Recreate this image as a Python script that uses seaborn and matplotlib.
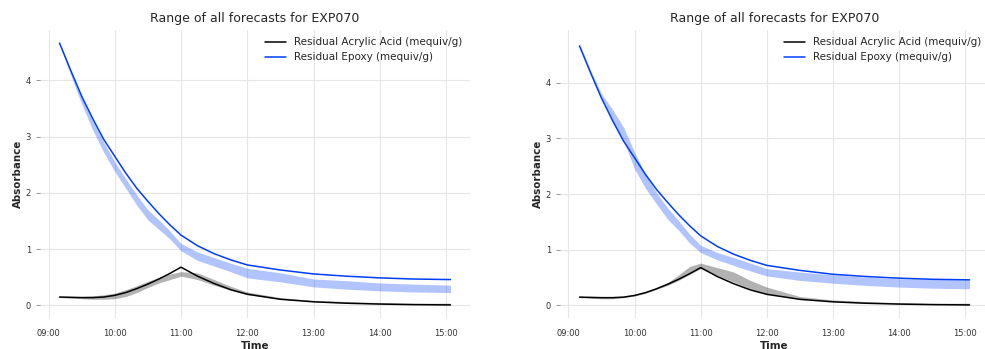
import pandas as pd
import numpy as np
import matplotlib.pyplot as plt
import matplotlib.dates as mdates
import seaborn as sns

# minutes after 09:00
minutes = [10, 20, 30, 40, 50, 60, 70, 80, 90, 100, 110, 120,
           135, 150, 165, 180, 210, 240, 270, 300, 330, 364]

# observed series (same in both panels)
acid = [0.15, 0.145, 0.14, 0.14, 0.15, 0.18, 0.23, 0.30, 0.38, 0.47, 0.57, 0.68,
        0.52, 0.39, 0.28, 0.20, 0.11, 0.065, 0.04, 0.025, 0.015, 0.01]
epoxy = [4.66, 4.18, 3.72, 3.32, 2.95, 2.65, 2.35, 2.08, 1.85, 1.63, 1.43, 1.25,
         1.06, 0.92, 0.81, 0.72, 0.63, 0.56, 0.52, 0.49, 0.47, 0.46]

# forecast ranges, left panel
acid_lo_1 = [0.14, 0.13, 0.12, 0.11, 0.11, 0.12, 0.16, 0.23, 0.32, 0.40, 0.46, 0.52,
             0.46, 0.36, 0.27, 0.19, 0.11, 0.07, 0.04, 0.03, 0.02, 0.01]
acid_hi_1 = [0.16, 0.16, 0.16, 0.17, 0.19, 0.22, 0.28, 0.35, 0.43, 0.50, 0.56, 0.60,
             0.58, 0.46, 0.34, 0.24, 0.14, 0.09, 0.07, 0.05, 0.04, 0.04]
epoxy_lo_1 = [4.64, 4.10, 3.58, 3.12, 2.72, 2.38, 2.08, 1.78, 1.52, 1.35, 1.18, 0.97,
              0.80, 0.70, 0.60, 0.49, 0.42, 0.33, 0.29, 0.26, 0.24, 0.23]
epoxy_hi_1 = [4.66, 4.18, 3.70, 3.28, 2.90, 2.55, 2.25, 1.96, 1.70, 1.52, 1.32, 1.10,
              0.95, 0.85, 0.75, 0.66, 0.58, 0.47, 0.44, 0.40, 0.38, 0.36]

# forecast ranges, right panel
acid_lo_2 = [0.14, 0.13, 0.12, 0.12, 0.14, 0.17, 0.22, 0.29, 0.36, 0.45, 0.56, 0.66,
             0.54, 0.42, 0.30, 0.21, 0.12, 0.07, 0.04, 0.03, 0.02, 0.01]
acid_hi_2 = [0.16, 0.16, 0.15, 0.15, 0.16, 0.19, 0.25, 0.32, 0.41, 0.55, 0.70, 0.76,
             0.68, 0.60, 0.45, 0.33, 0.16, 0.10, 0.07, 0.05, 0.04, 0.04]
epoxy_lo_2 = [4.69, 4.16, 3.72, 3.32, 2.96, 2.45, 2.10, 1.82, 1.55, 1.35, 1.12, 0.95,
              0.82, 0.72, 0.62, 0.53, 0.45, 0.40, 0.36, 0.33, 0.31, 0.30]
epoxy_hi_2 = [4.71, 4.22, 3.80, 3.52, 3.20, 2.75, 2.35, 2.02, 1.75, 1.52, 1.28, 1.08,
              0.95, 0.86, 0.76, 0.66, 0.60, 0.55, 0.51, 0.48, 0.47, 0.46]

title = "Range of all forecasts for EXP070"
acid_label = "Residual Acrylic Acid (mequiv/g)"
epoxy_label = "Residual Epoxy (mequiv/g)"

BLACK = "#000000"
BLUE = "#003DFD"

sns.set_style("whitegrid", {"grid.color": "#e6e6e6", "axes.edgecolor": "white"})

times = pd.Timestamp("2021-01-01 09:00") + pd.to_timedelta(minutes, unit="min")
df = pd.DataFrame({"time": times, "acid": acid, "epoxy": epoxy})

fig = plt.figure(figsize=(9.85, 3.49), dpi=100)
W, H = 985, 349
ax1 = fig.add_axes([40 / W, 1 - 318 / H, 430 / W, 288 / H])
ax2 = fig.add_axes([560 / W, 1 - 318 / H, 429 / W, 288 / H])

panels = [
    (ax1, acid_lo_1, acid_hi_1, epoxy_lo_1, epoxy_hi_1),
    (ax2, acid_lo_2, acid_hi_2, epoxy_lo_2, epoxy_hi_2),
]

for ax, alo, ahi, elo, ehi in panels:
    # forecast ranges first, observed lines on top
    ax.fill_between(df["time"], alo, ahi, color=BLACK, alpha=0.3, linewidth=0)
    ax.fill_between(df["time"], elo, ehi, color=BLUE, alpha=0.3, linewidth=0)
    sns.lineplot(data=df, x="time", y="acid", color=BLACK, lw=1.1,
                 label=acid_label, ax=ax)
    sns.lineplot(data=df, x="time", y="epoxy", color=BLUE, lw=1.1,
                 label=epoxy_label, ax=ax)

    ax.set_title(title, fontsize=9, pad=6)
    ax.set_xlabel("Time", fontsize=7.4, fontweight="bold", labelpad=2)
    ax.set_ylabel("Absorbance", fontsize=7.4, fontweight="bold", labelpad=2)
    ax.xaxis.set_major_locator(mdates.HourLocator())
    ax.xaxis.set_major_formatter(mdates.DateFormatter("%H:%M"))
    ax.set_yticks([0, 1, 2, 3, 4])
    ax.tick_params(axis="both", labelsize=6, labelcolor="#333333")
    ax.tick_params(axis="y", length=3, width=0.6, color="#888888", left=True)
    ax.tick_params(axis="x", length=0, pad=8)
    for s in ax.spines.values():
        s.set_visible(False)
    ax.legend(loc="upper right", frameon=False, fontsize=7.5,
              borderaxespad=0.3, handlelength=2.0)

fig.savefig("out.png", dpi=100)
